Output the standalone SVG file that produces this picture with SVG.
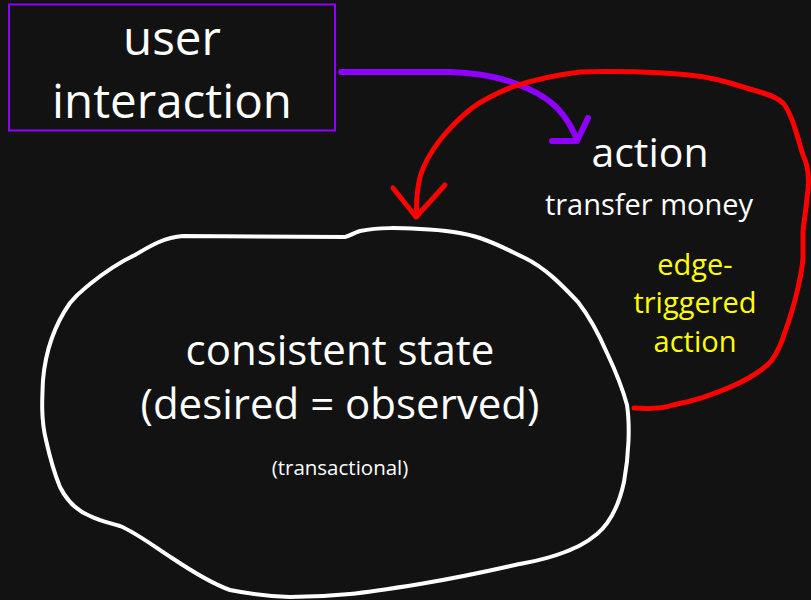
<svg xmlns="http://www.w3.org/2000/svg" width="811" height="600" viewBox="0 0 811 600">
  <style>
    text { font-family: "Open Sans", "Noto Sans", "Liberation Sans", sans-serif; text-anchor: middle; }
    .w { fill: #ffffff; }
    .y { fill: #ffff00; }
    .hand { fill: none; stroke-linecap: round; stroke-linejoin: round; }
    .red { stroke: #ff0000; stroke-width: 5; }
    .violet { stroke: #8f00ff; stroke-width: 6; }
  </style>
  <rect width="811" height="600" fill="#121212"/>

  <!-- user interaction box -->
  <g id="user-interaction">
    <rect x="9" y="4.5" width="326" height="126" fill="none" stroke="#8f00ff" stroke-width="2"/>
    <text class="w" x="172" y="55" font-size="47.5">user</text>
    <text class="w" x="172" y="118" font-size="47.5">interaction</text>
  </g>

  <!-- action label -->
  <g id="action">
    <text class="w" x="650" y="167" font-size="41">action</text>
    <text class="w" x="649" y="215" font-size="29">transfer money</text>
  </g>

  <!-- consistent state blob -->
  <g id="consistent-state">
    <path class="hand" stroke="#ffffff" stroke-width="4"
      d="M183,236 L345,237 C350,236 353,233 360,231 C380,227 400,228 420,229 C445,230 465,233 480,238 C500,245 510,251 525,258 C545,268 560,283 578,302 C592,320 600,337 607,353 C616,372 623,390 627,405 C630,425 629,455 624,482 C619,505 610,523 597,534 C585,544 575,548 565,552 C545,560 530,562 515,565 C480,573 450,579 420,584 C395,588 370,592 350,594 C330,596 310,597 290,597 C265,596 245,593 230,590 C210,583 190,570 172,558 C155,547 135,532 120,526 C110,523 100,521 90,516 C75,510 66,499 60,487 C55,475 50,458 46,440 C41,420 42,400 43,380 C46,345 58,320 70,303 C78,293 84,289 90,284 C105,272 120,262 135,255 C150,246 165,237 183,236 Z"/>
    <text class="w" x="340" y="365" font-size="42">consistent state</text>
    <text class="w" x="340" y="419" font-size="42">(desired = observed)</text>
    <text class="w" x="340" y="475" font-size="20.5">(transactional)</text>
  </g>

  <!-- edge-triggered label -->
  <g id="edge-triggered">
    <text class="y" x="695" y="275" font-size="29">edge-</text>
    <text class="y" x="695" y="313" font-size="29">triggered</text>
    <text class="y" x="695" y="352" font-size="29">action</text>
  </g>

  <!-- connectors -->
  <g id="connectors">
    <!-- user interaction to action -->
    <path class="hand violet" d="M341,72 L450,72 C490,73 520,82 545,98 C560,108 570,122 577,140"/>
    <path class="hand violet" d="M588,118 L577,141 L552,141"/>
    <!-- feedback loop from state through action and back -->
    <path class="hand red" d="M634,408 C650,409 665,408 673,405 C695,401 715,394 735,385 C752,377 764,370 772,360 C779,350 782,342 785,332 C790,318 794,305 797,292 C800,280 802,270 803,258 C803,248 803,240 803,232 C804,220 806,210 807,198 C810,180 808,165 803,155 C798,140 793,115 783,103 C776,97 770,95 763,93 C750,89 740,86 730,83 C710,77 690,74 663,73 C640,72 610,71 580,72 C555,75 530,81 512,87 C495,94 483,100 472,108 C458,119 448,130 440,140 C430,153 424,163 420,177 C417,190 416,205 417,216"/>
    <path class="hand red" d="M393,188 L416,217 L445,185"/>
  </g>
</svg>
